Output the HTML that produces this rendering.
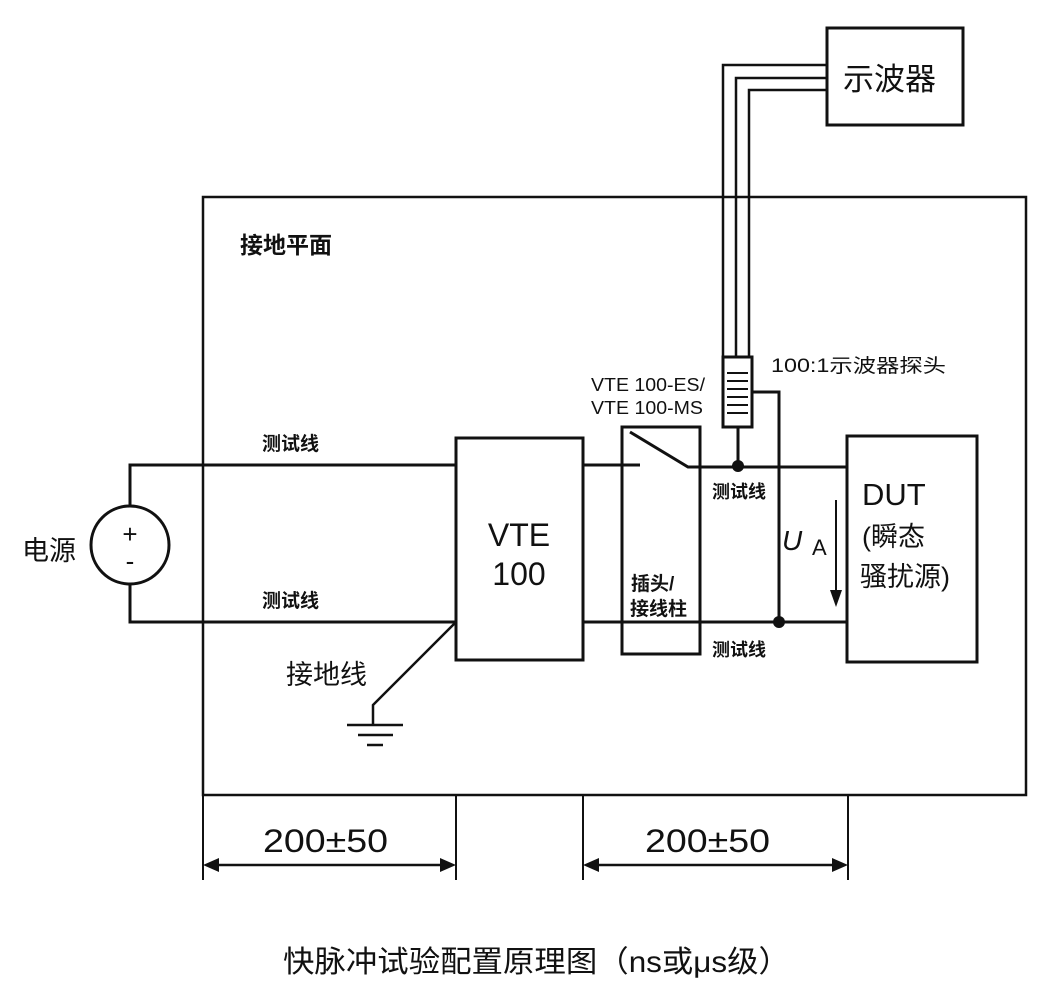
<!DOCTYPE html>
<html><head><meta charset="utf-8"><style>
html,body{margin:0;padding:0;background:#fff}
svg{display:block}
text{font-family:"Liberation Sans","Noto Sans CJK SC",sans-serif;fill:#111}
</style></head><body>
<svg width="1039" height="986" viewBox="0 0 1039 986" xmlns="http://www.w3.org/2000/svg">
<g fill="none" stroke="#111" stroke-width="3">
<rect x="203" y="197" width="823" height="598" stroke-width="2.5"/>
<rect x="827" y="28" width="136" height="97"/>
<path d="M723 357V65H827M736 357V78H827M749 357V90H827" stroke-width="2.5"/>
<rect x="723" y="357" width="29" height="70" stroke-width="3"/>
<path d="M738 427V465M752 392H779V622" />
<rect x="456" y="438" width="127" height="222"/>
<rect x="622" y="427" width="78" height="227"/>
<rect x="847" y="436" width="130" height="226"/>
<path d="M130 505V465H456M130 584V622H456M583 465H640M630 432L688 467H847M583 622H847"/>
<path d="M456 622L373 705V725M347 725H403M358 735H393M367 745H383" stroke-width="2.5"/>
<circle cx="130" cy="545" r="39"/>
<path d="M836 500V590" stroke-width="2"/>
<path d="M203 795V880M456 795V880M583 795V880M848 795V880" stroke-width="2"/>
<path d="M215 865H444M595 865H836" stroke-width="2.5"/>
</g>
<g fill="#111">
<path d="M727 372h21v2h-21zM727 380h21v2h-21zM727 388h21v2h-21zM727 396h21v2h-21zM727 404h21v2h-21zM727 412h21v2h-21z"/>
<circle cx="738" cy="466" r="6"/><circle cx="779" cy="622" r="6"/>
<path d="M836 607l-6-17h12z"/>
<path d="M203 865l16-7v14zM456 865l-16-7v14zM583 865l16-7v14zM848 865l-16-7v14z"/>
</g>
<text x="130" y="543" font-size="26" text-anchor="middle">+</text>
<text x="130" y="570" font-size="26" text-anchor="middle">-</text>
<text x="843" y="90" font-size="31">示波器</text>
<text x="240" y="253" font-size="23" font-weight="bold">接地平面</text>
<text x="262" y="450" font-size="19" font-weight="bold">测试线</text>
<text x="262" y="607" font-size="19" font-weight="bold">测试线</text>
<text x="22" y="560" font-size="27">电源</text>
<text x="286" y="684" font-size="27">接地线</text>
<text x="519" y="546" font-size="32" text-anchor="middle">VTE</text>
<text x="519" y="585" font-size="32" text-anchor="middle">100</text>
<text x="591" y="391" font-size="18" textLength="114" lengthAdjust="spacingAndGlyphs">VTE 100-ES/</text>
<text x="591" y="414" font-size="18" textLength="112" lengthAdjust="spacingAndGlyphs">VTE 100-MS</text>
<text x="771" y="372" font-size="19" textLength="175" lengthAdjust="spacingAndGlyphs">100:1示波器探头</text>
<text x="631" y="590" font-size="19" font-weight="bold">插头/</text>
<text x="630" y="615" font-size="19" font-weight="bold">接线柱</text>
<text x="712" y="498" font-size="18" font-weight="bold">测试线</text>
<text x="712" y="656" font-size="18" font-weight="bold">测试线</text>
<text x="782" y="550" font-size="28" font-style="italic">U</text>
<text x="812" y="555" font-size="22">A</text>
<text x="862" y="505" font-size="31">DUT</text>
<text x="862" y="546" font-size="27">(瞬态</text>
<text x="860" y="586" font-size="27">骚扰源)</text>
<text x="263" y="852" font-size="32" textLength="125" lengthAdjust="spacingAndGlyphs">200±50</text>
<text x="645" y="852" font-size="32" textLength="125" lengthAdjust="spacingAndGlyphs">200±50</text>
<text x="283" y="972" font-size="30" textLength="507" lengthAdjust="spacingAndGlyphs">快脉冲试验配置原理图（ns或μs级）</text>
</svg>
</body></html>
